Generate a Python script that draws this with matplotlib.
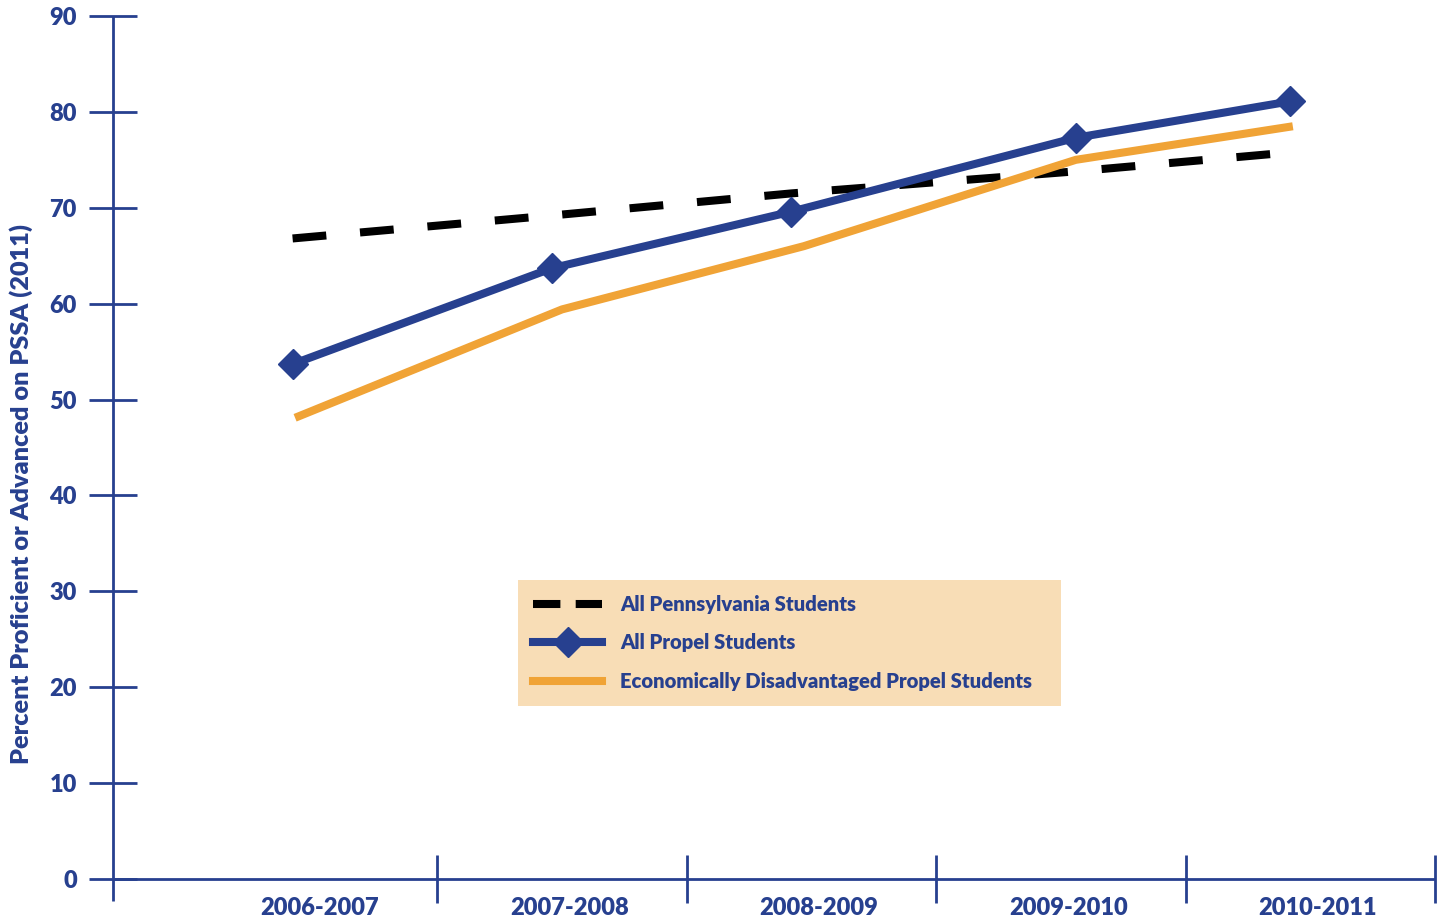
import numpy as np
import matplotlib.pyplot as plt
from matplotlib.lines import Line2D


# -------------------------------------------------------
# Data
# -------------------------------------------------------

years = ["2006-2007", "2007-2008", "2008-2009", "2009-2010", "2010-2011"]

# points sit slightly off the category centres in the original
pa_x = [-0.08, 0.96, 1.92, 3.06, 3.93]
pa_all = [66.8, 69.2, 71.5, 73.8, 75.8]

propel_x = [-0.08, 0.96, 1.92, 3.06, 3.92]
propel_all = [53.7, 63.7, 69.6, 77.3, 81.1]

econ_x = [-0.07, 1.00, 1.97, 3.06, 3.93]
propel_econ = [48.1, 59.4, 66.0, 75.0, 78.5]

labels = [
    "All Pennsylvania Students",
    "All Propel Students",
    "Economically Disadvantaged Propel Students",
]

BLUE = "#27408f"
ORANGE = "#f0a336"
LEGEND_BG = "#f8ddb6"

plt.rcParams["font.family"] = ["Lato", "DejaVu Sans"]
plt.rcParams["font.weight"] = "heavy"


# -------------------------------------------------------
# Plot
# -------------------------------------------------------

fig = plt.figure(figsize=(14.45, 9.23), dpi=100)

W, H = 1445, 923
left, right, top, bottom = 113, 1435, 16, 879
ax = fig.add_axes([left / W, (H - bottom) / H,
                   (right - left) / W, (bottom - top) / H])

lw = 5.8

ax.plot(pa_x, pa_all, color="black", lw=lw, dashes=(4.2, 4.2),
        solid_capstyle="butt", dash_capstyle="butt", zorder=3)
ax.plot(econ_x, propel_econ, color=ORANGE, lw=lw,
        solid_capstyle="butt", zorder=3)
ax.plot(propel_x, propel_all, color=BLUE, lw=lw, marker="D",
        markersize=15, solid_capstyle="butt", zorder=4)

ax.set_xlim(-0.8, 4.5)
ax.set_ylim(0, 90)

for s in ax.spines.values():
    s.set_visible(False)

# axis lines (y axis runs a little below zero)
ax.plot([0, 0], [-0.025, 1], transform=ax.transAxes, color=BLUE,
        lw=2, clip_on=False, solid_capstyle="butt")
ax.plot([0, 1], [0, 0], transform=ax.transAxes, color=BLUE,
        lw=2, clip_on=False, solid_capstyle="butt")

ax.set_yticks(np.arange(0, 91, 10))
ax.tick_params(axis="y", direction="inout", length=34, width=2,
               color=BLUE, labelcolor=BLUE, labelsize=17, pad=9)

ax.set_xticks([0.5, 1.5, 2.5, 3.5, 4.5])
ax.set_xticklabels([])
ax.tick_params(axis="x", direction="inout", length=34, width=2,
               color=BLUE)
ax.set_xticks([i + 0.03 for i in range(len(years))], minor=True)
ax.set_xticklabels(years, minor=True)
ax.tick_params(axis="x", which="minor", length=0, labelcolor=BLUE,
               labelsize=17, pad=13)

ax.set_ylabel("Percent Proficient or Advanced on PSSA (2011)",
              color=BLUE, fontsize=18.2, fontweight="heavy")
ax.yaxis.set_label_coords(-0.0608, 0.446)

handles = [
    Line2D([], [], color="black", lw=lw, dashes=(3.4, 1.9),
           dash_capstyle="butt"),
    Line2D([], [], color=BLUE, lw=lw, marker="D", markersize=15),
    Line2D([], [], color=ORANGE, lw=lw),
]

lx0 = (518 - left) / (right - left)
ly0 = (bottom - 705) / (bottom - top)
lw_ax = (1061 - 518) / (right - left)
lh_ax = (705 - 580) / (bottom - top)

leg = ax.legend(
    handles, labels,
    loc="upper left",
    bbox_to_anchor=(lx0, ly0, lw_ax, lh_ax),
    mode="expand",
    borderaxespad=0,
    frameon=True,
    fancybox=False,
    facecolor=LEGEND_BG,
    edgecolor=LEGEND_BG,
    framealpha=1,
    fontsize=14.6,
    handlelength=3.4,
    handletextpad=0.9,
    labelspacing=0.95,
    borderpad=0.75,
)
for t in leg.get_texts():
    t.set_color(BLUE)
leg.get_frame().set_linewidth(0)

fig.savefig("out.png", dpi=100)
